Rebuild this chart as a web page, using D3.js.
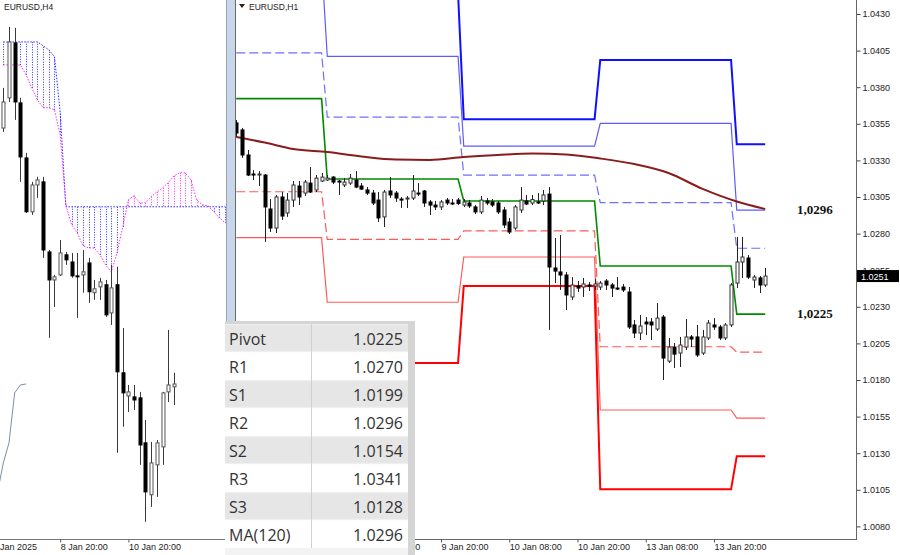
<!DOCTYPE html>
<html>
<head>
<meta charset="utf-8">
<script src="https://cdn.jsdelivr.net/npm/d3@7"></script>
<style>
html,body{margin:0;padding:0;background:#fff;}
svg{display:block;font-family:"Liberation Sans",Arial,sans-serif;}
</style>
</head>
<body>
<svg id="chart" width="900" height="555"></svg>
<script>
// ================= DATA =================
// H1 candles (8 Jan 08:00 .. 14 Jan 05:00)
const h1Open = [1.03556,1.03508,1.03337,1.03207,1.03200,1.03200,1.02968,1.02838,1.03050,1.02941,
1.03029,1.03125,1.03077,1.03145,1.03098,1.03159,1.03166,1.03186,1.03159,1.03132,
1.03145,1.03166,1.03125,1.03098,1.03077,1.03029,1.02914,1.03091,1.03077,1.03036,
1.03036,1.03043,1.03077,1.03091,1.03016,1.02995,1.02982,1.03029,1.03009,1.03029,
1.02995,1.03009,1.02982,1.02948,1.03023,1.03016,1.03009,1.02961,1.02879,1.02838,
1.02961,1.03023,1.03009,1.03016,1.03023,1.03070,1.02565,1.02538,1.02517,1.02367,
1.02442,1.02435,1.02449,1.02442,1.02435,1.02476,1.02449,1.02428,1.02435,1.02401,
1.02176,1.02121,1.02196,1.02196,1.02148,1.02230,1.01929,1.02025,1.01984,1.02025,
1.02094,1.02094,1.01984,1.02087,1.02176,1.02162,1.02087,1.02176,1.02462,1.02606,
1.02633,1.02483,1.02497,1.02449];
const h1High = [1.03576,1.03522,1.03371,1.03234,1.03227,1.03207,1.03036,1.03064,1.03084,1.03077,
1.03159,1.03159,1.03166,1.03255,1.03200,1.03214,1.03200,1.03193,1.03166,1.03179,
1.03207,1.03227,1.03145,1.03118,1.03098,1.03084,1.03098,1.03186,1.03091,1.03050,
1.03057,1.03200,1.03145,1.03098,1.03029,1.03023,1.03029,1.03043,1.03036,1.03043,
1.03036,1.03029,1.02995,1.03057,1.03043,1.03036,1.03023,1.02982,1.02907,1.02995,
1.03118,1.03064,1.03064,1.03077,1.03098,1.03118,1.02770,1.02790,1.02538,1.02503,
1.02476,1.02497,1.02469,1.02490,1.02476,1.02490,1.02462,1.02503,1.02456,1.02435,
1.02210,1.02244,1.02230,1.02223,1.02326,1.02244,1.02087,1.02053,1.02094,1.02217,
1.02107,1.02176,1.02142,1.02210,1.02223,1.02176,1.02189,1.02462,1.02777,1.02777,
1.02654,1.02517,1.02510,1.02565];
const h1Low = [1.03460,1.03317,1.03193,1.03166,1.03125,1.02743,1.02811,1.02804,1.02893,1.02914,
1.02982,1.02995,1.03057,1.03077,1.03084,1.03152,1.03159,1.03138,1.03064,1.03118,
1.03132,1.03111,1.03098,1.03064,1.02995,1.02879,1.02845,1.03043,1.03016,1.02975,
1.02975,1.03029,1.03057,1.02982,1.02927,1.02961,1.02961,1.02995,1.02995,1.02995,
1.02982,1.02975,1.02934,1.02934,1.02995,1.02982,1.02934,1.02838,1.02797,1.02825,
1.02941,1.02995,1.02995,1.03002,1.02995,1.02142,1.02462,1.02415,1.02278,1.02346,
1.02401,1.02367,1.02408,1.02415,1.02415,1.02415,1.02367,1.02415,1.02401,1.02148,
1.02087,1.02073,1.02107,1.02073,1.02135,1.01800,1.01916,1.01882,1.01889,1.02005,
1.02025,1.01957,1.01971,1.02073,1.02142,1.02073,1.02073,1.02162,1.02428,1.02497,
1.02490,1.02428,1.02394,1.02435];
const h1Close = [1.03487,1.03337,1.03200,1.03200,1.03207,1.02982,1.02838,1.03050,1.02920,1.03029,
1.03132,1.03050,1.03152,1.03084,1.03179,1.03186,1.03179,1.03152,1.03152,1.03152,
1.03179,1.03118,1.03104,1.03077,1.03009,1.02907,1.03084,1.03064,1.03043,1.03029,
1.03043,1.03091,1.03074,1.03009,1.02995,1.02982,1.03016,1.03009,1.03005,1.03006,
1.03016,1.02989,1.02948,1.03029,1.03009,1.02995,1.02948,1.02859,1.02811,1.02982,
1.03029,1.03002,1.03033,1.03013,1.03064,1.02572,1.02544,1.02517,1.02381,1.02449,
1.02428,1.02456,1.02446,1.02456,1.02462,1.02449,1.02428,1.02425,1.02415,1.02162,
1.02121,1.02169,1.02183,1.02176,1.02223,1.01950,1.02025,1.01977,1.02039,1.02094,
1.02080,1.01971,1.02094,1.02189,1.02162,1.02087,1.02176,1.02449,1.02606,1.02640,
1.02503,1.02503,1.02449,1.02510];

// H4 candles
const h4Open = [1.03841,1.03997,1.04282,1.03971,1.03686,1.03407,1.03546,1.03562,1.03199,1.03054,1.03080,1.03184,1.03147,1.03075,1.03080,1.03142,1.02988,1.03018,1.03029,1.02883,1.03029,1.02573,1.02453,1.02448,1.02443,1.02210,1.01941,1.02096,1.02189,1.02474,1.02500];
const h4High = [1.04049,1.04365,1.04360,1.03997,1.03712,1.03562,1.03588,1.03588,1.03209,1.03080,1.03261,1.03199,1.03194,1.03194,1.03209,1.03168,1.03054,1.03065,1.03054,1.03132,1.03122,1.02805,1.02510,1.02510,1.02474,1.02329,1.02215,1.02225,1.02474,1.02795,1.02573];
const h4Low = [1.03821,1.03976,1.03883,1.03562,1.03401,1.03391,1.03479,1.03168,1.02754,1.02914,1.03075,1.03132,1.03065,1.02857,1.02988,1.02935,1.02951,1.02951,1.02862,1.02821,1.02158,1.02293,1.02370,1.02380,1.02096,1.01801,1.01878,1.01930,1.02096,1.02422,1.02406];
const h4Close = [1.03976,1.04287,1.03976,1.03691,1.03407,1.03546,1.03572,1.03209,1.03054,1.03070,1.03194,1.03158,1.03075,1.03070,1.03096,1.02993,1.03008,1.03044,1.02873,1.03013,1.02578,1.02469,1.02474,1.02432,1.02199,1.01956,1.02106,1.02210,1.02469,1.02510,1.02515];

// Ichimoku cloud spans on H4 (per bar, shifted forward)
const spanA = [1.04168,1.04168,1.04168,1.04168,1.04117,1.04049,1.03987,1.03946,1.03946,1.03935,
1.03806,1.03443,1.03340,1.03298,1.03231,1.03220,1.03220,1.03184,1.03132,1.03096,
1.03194,1.03329,1.03469,1.03490,1.03453,1.03453,1.03485,1.03510,1.03531,1.03557,
1.03593,1.03609,1.03609,1.03572,1.03469,1.03443,1.03438,1.03407,1.03376,1.03350];
const spanB = [1.04287,1.04287,1.04287,1.04287,1.04287,1.04287,1.04287,1.04267,1.04246,1.04210,
1.03925,1.03433,1.03433,1.03433,1.03433,1.03433,1.03433,1.03433,1.03433,1.03433,
1.03433,1.03433,1.03433,1.03433,1.03433,1.03433,1.03433,1.03433,1.03433,1.03433,
1.03433,1.03433,1.03433,1.03433,1.03433,1.03433,1.03433,1.03433,1.03433,1.03433];
const chikouShift = 26;

// Daily pivot levels on H1
const dayStart = [0,16,40,64,88];
const dayEnd   = [15,39,63,87,93];
const levelR3 = [1.0497,1.0444,1.03581,1.03986,1.0341];
const levelR2 = [1.0466,1.04011,1.03398,1.03553,1.0296];
const levelR1 = [1.04034,1.03596,1.03200,1.03011,1.0270];
const levelP  = [1.03722,1.03173,1.03023,1.02579,1.0225];
const levelS1 = [1.03086,1.02761,1.02818,1.02027,1.0199];
const levelS2 = [1.02772,1.02331,1.02640,1.01595,1.0154];
const levelS3 = [1.0215,1.01916,1.02442,1.01053,1.0128];

// MA(120) read at sample bars
const maBars   = [0,5,10,16,22,28,34,40,46,52,58,64,70,76,82,88,93];
const maValues = [1.03460,1.03422,1.03378,1.03357,1.03327,1.03306,1.03303,1.03323,1.03337,1.03347,1.03340,1.03313,1.03275,1.03214,1.03105,1.03019,1.02968];

// Axis ticks & labels
const priceTicks = [1.0430,1.0405,1.0380,1.0355,1.0330,1.0305,1.0280,1.0255,1.0230,1.0205,1.0180,1.0155,1.0130,1.0105,1.0080];
const h1TickBars = [12,24,36,48,60,72,84];
const h1TickLabels = ["8 Jan 20:00","9 Jan 08:00","9 Jan 20:00","10 Jan 08:00","10 Jan 20:00","13 Jan 08:00","13 Jan 20:00"];
const h4TickBars = [-2,10,22];
const h4TickLabels = ["7 Jan 2025","8 Jan 20:00","10 Jan 20:00"];

// Table
const tableNames  = ["Pivot","R1","S1","R2","S2","R3","S3","MA(120)"];
const tableValues = ["1.0225","1.0270","1.0199","1.0296","1.0154","1.0341","1.0128","1.0296"];
const calloutValues = [1.0296, 1.0225];

// ================= DRAW =================
const svg = d3.select("#chart");
const defs = svg.append("defs");
defs.append("clipPath").attr("id","clip4").append("rect").attr("x",0).attr("y",0).attr("width",226).attr("height",539);
defs.append("clipPath").attr("id","clip1").append("rect").attr("x",236).attr("y",0).attr("width",620).attr("height",539);

svg.append("rect").attr("width",900).attr("height",555).attr("fill","#fff");

// scales
const x1 = d3.scaleLinear().domain([0,93]).range([236.25,765.2]);
const y1 = d3.scaleLinear().domain([1.0080,1.0430]).range([526.4,14]);
const x4 = d3.scaleLinear().domain([0,30]).range([3.3,173.9]);
const y4 = d3.scaleLinear().domain([1.0180,1.0437]).range([522,25.9]);

function drawCandles(g, xs, ys, O, Hh, L, C, wickColor, outline) {
  const idx = d3.range(O.length);
  g.append("g").selectAll("line").data(idx).join("line")
    .attr("x1", i => Math.round(xs(i)) + 0.5).attr("x2", i => Math.round(xs(i)) + 0.5)
    .attr("y1", i => ys(Hh[i])).attr("y2", i => ys(L[i]))
    .attr("stroke", wickColor).attr("stroke-width", 1);
  g.append("g").selectAll("rect").data(idx).join("rect")
    .attr("x", i => Math.round(xs(i)) - 1)
    .attr("width", 3)
    .attr("y", i => ys(Math.max(O[i], C[i])))
    .attr("height", i => Math.max(1, Math.abs(ys(O[i]) - ys(C[i]))))
    .attr("fill", i => C[i] >= O[i] ? "#fff" : "#000")
    .attr("stroke", i => C[i] >= O[i] ? outline : "#000")
    .attr("stroke-width", 1);
}

// ---------- H4 panel ----------
const g4 = svg.append("g").attr("clip-path","url(#clip4)");
const cloudIdx = d3.range(spanA.length);
// hatch
g4.append("g").selectAll("line").data(cloudIdx).join("line")
  .attr("x1", j => Math.round(x4(j)) + 0.5).attr("x2", j => Math.round(x4(j)) + 0.5)
  .attr("y1", j => y4(spanA[j])).attr("y2", j => y4(spanB[j]))
  .attr("stroke", j => spanB[j] > spanA[j] ? "#2e2eff" : "#ff2eff")
  .attr("stroke-width", 1).attr("stroke-dasharray","1,1.5");
const spanLine = d3.line().x((d,j) => x4(j)).y(d => y4(d));
g4.append("path").attr("d", spanLine(spanB)).attr("fill","none")
  .attr("stroke","#2a2aff").attr("stroke-width",1).attr("stroke-dasharray","1.5,1.5");
g4.append("path").attr("d", spanLine(spanA)).attr("fill","none")
  .attr("stroke","#ff2aff").attr("stroke-width",1).attr("stroke-dasharray","1.5,1.5");
// chikou
const chik = d3.range(h4Close.length).map(j => [j - chikouShift, h4Close[j]]).filter(d => d[0] >= -1);
g4.append("path").attr("d", d3.line().x(d => x4(d[0])).y(d => y4(d[1]))(chik))
  .attr("fill","none").attr("stroke","#7d8ea8").attr("stroke-width",1);
drawCandles(g4, x4, y4, h4Open, h4High, h4Low, h4Close, "#3a3a3a", "#555");

svg.append("text").attr("x",4).attr("y",10).attr("font-size",8.5).attr("fill","#222").text("EURUSD,H4");

// H4 time axis
const ax4 = d3.axisBottom(x4).tickValues(h4TickBars).tickFormat((d,i) => h4TickLabels[i]).tickSize(3).tickSizeOuter(0);
const ax4g = svg.append("g").attr("transform","translate(0,539.5)").call(ax4);
ax4g.select(".domain").remove();
ax4g.selectAll(".tick line").attr("stroke","#555");
ax4g.selectAll("text").attr("text-anchor","start").attr("x",0).attr("dy","0.55em")
  .attr("font-size",9).attr("fill","#222").attr("font-family","Liberation Sans, Arial, sans-serif");
svg.append("line").attr("x1",0).attr("x2",226).attr("y1",539.5).attr("y2",539.5).attr("stroke","#777");

// ---------- separator ----------
svg.append("rect").attr("x",226).attr("y",0).attr("width",10).attr("height",555).attr("fill","#c7d6e8");
svg.append("line").attr("x1",226.5).attr("x2",226.5).attr("y1",0).attr("y2",555).attr("stroke","#9aa4b0");
svg.append("line").attr("x1",235.5).attr("x2",235.5).attr("y1",0).attr("y2",555).attr("stroke","#6a6a6a");

// ---------- H1 panel ----------
const g1 = svg.append("g").attr("clip-path","url(#clip1)");
const stepPts = lv => dayStart.flatMap((s,d) => [[s, lv[d]], [dayEnd[d], lv[d]]]);
const lvLine = d3.line().x(d => x1(d[0])).y(d => y1(d[1]));
const levels = [
  {v: levelR3, c:"#1010ff", w:2,   dash:null},
  {v: levelR2, c:"#5c5cff", w:1.2, dash:null},
  {v: levelR1, c:"#6e6eff", w:1.2, dash:"9,4"},
  {v: levelP,  c:"#008a00", w:1.6, dash:null},
  {v: levelS1, c:"#ff5a5a", w:1.2, dash:"9,4"},
  {v: levelS2, c:"#ff5a5a", w:1.2, dash:null},
  {v: levelS3, c:"#ff0000", w:2,   dash:null}
];
levels.forEach(L => {
  g1.append("path").attr("d", lvLine(stepPts(L.v))).attr("fill","none")
    .attr("stroke", L.c).attr("stroke-width", L.w)
    .attr("stroke-dasharray", L.dash);
});
// MA(120)
g1.append("path")
  .attr("d", d3.line().x((d,i) => x1(maBars[i])).y(d => y1(d)).curve(d3.curveMonotoneX)(maValues))
  .attr("fill","none").attr("stroke","#8b1c1c").attr("stroke-width",2);
drawCandles(g1, x1, y1, h1Open, h1High, h1Low, h1Close, "#222", "#333");

// H1 title
svg.append("path").attr("d","M239,4 L245,4 L242,8 Z").attr("fill","#222");
svg.append("text").attr("x",249).attr("y",10).attr("font-size",8.5).attr("fill","#222").text("EURUSD,H1");

// price axis
const axR = d3.axisRight(y1).tickValues(priceTicks).tickFormat(d3.format(".4f")).tickSize(4).tickPadding(2).tickSizeOuter(0);
const axRg = svg.append("g").attr("transform","translate(856.5,0)").call(axR);
axRg.select(".domain").remove();
axRg.selectAll(".tick line").attr("stroke","#444");
axRg.selectAll("text").attr("font-size",9).attr("fill","#222").attr("font-family","Liberation Sans, Arial, sans-serif");
svg.append("line").attr("x1",856.5).attr("x2",856.5).attr("y1",0).attr("y2",540).attr("stroke","#666");

// H1 time axis
const axB = d3.axisBottom(x1).tickValues(h1TickBars).tickFormat((d,i) => h1TickLabels[i]).tickSize(3).tickSizeOuter(0);
const axBg = svg.append("g").attr("transform","translate(0,539.5)").call(axB);
axBg.select(".domain").remove();
axBg.selectAll(".tick line").attr("stroke","#555");
axBg.selectAll("text").attr("text-anchor","start").attr("x",0).attr("dy","0.55em")
  .attr("font-size",9).attr("fill","#222").attr("font-family","Liberation Sans, Arial, sans-serif");
svg.append("line").attr("x1",236).attr("x2",857).attr("y1",539.5).attr("y2",539.5).attr("stroke","#666");

// current price box
const last = h1Close[h1Close.length - 1];
svg.append("rect").attr("x",857).attr("y",y1(last) - 6).attr("width",42).attr("height",12).attr("fill","#000");
svg.append("text").attr("x",861).attr("y",y1(last) + 3.5).attr("font-size",9).attr("fill","#fff").text(d3.format(".4f")(last));

// callouts
svg.selectAll("text.callout").data(calloutValues).join("text").attr("class","callout")
  .attr("x",797).attr("y", d => y1(d) + 4)
  .attr("font-family","Liberation Serif, 'Times New Roman', serif").attr("font-weight","bold")
  .attr("font-size",13).attr("fill","#111")
  .text(d => d3.format(".4f")(d).replace(".", ","));

// ---------- table ----------
const tx0 = 225, ty0 = 321, rowH = 28, colX = 311, tx1 = 408, tRight = 415;
const tg = svg.append("g");
tg.append("rect").attr("x",tx0).attr("y",ty0).attr("width",tRight - tx0).attr("height",555 - ty0).attr("fill","#d5d5d5");
tg.append("rect").attr("x",tx0).attr("y",ty0 + 3).attr("width",tx1 - tx0).attr("height",rowH * tableNames.length).attr("fill","#fafafa");
tg.selectAll("rect.row").data(tableNames).join("rect").attr("class","row")
  .attr("x",tx0).attr("y",(d,i) => ty0 + 3 + i*rowH + 0.5)
  .attr("width",tx1 - tx0).attr("height",rowH - 1)
  .attr("fill",(d,i) => i % 2 === 0 ? "#e6e6e6" : "#ffffff");
tg.append("line").attr("x1",colX + 0.5).attr("x2",colX + 0.5).attr("y1",ty0 + 3).attr("y2",ty0 + 3 + rowH*tableNames.length)
  .attr("stroke","#d0d0d0");
tg.append("rect").attr("x",tx0).attr("y",ty0 + 3 + rowH*tableNames.length).attr("width",tx1 - tx0).attr("height",555 - (ty0 + 3 + rowH*tableNames.length)).attr("fill","#f3f3f3");
tg.selectAll("text.name").data(tableNames).join("text").attr("class","name")
  .attr("x",229).attr("y",(d,i) => ty0 + 3 + i*rowH + 21)
  .attr("font-family","'Open Sans','Noto Sans',sans-serif").attr("font-size",16).attr("fill","#333")
  .text(d => d);
tg.selectAll("text.val").data(tableValues).join("text").attr("class","val")
  .attr("x",403).attr("y",(d,i) => ty0 + 3 + i*rowH + 21).attr("text-anchor","end")
  .attr("font-family","'Open Sans','Noto Sans',sans-serif").attr("font-size",16).attr("fill","#333")
  .text(d => d);
</script>
</body>
</html>
